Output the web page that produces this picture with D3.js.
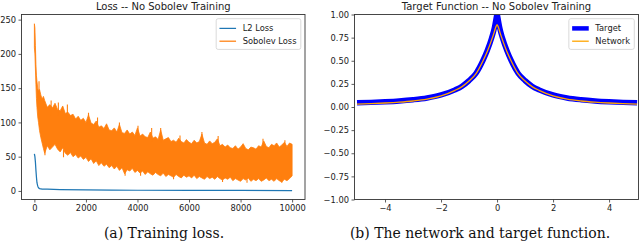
<!DOCTYPE html>
<html>
<head>
<meta charset="utf-8">
<style>
  body { margin: 0; background: #fff; }
  svg { display: block; }
  .tick text { font-family: "DejaVu Sans", sans-serif; font-size: 8.3px; fill: #222; }
  .tick line { stroke: #333; stroke-width: 0.8px; }
  .title { font-family: "DejaVu Sans", sans-serif; font-size: 10px; fill: #222; }
  .legend text { font-family: "DejaVu Sans", sans-serif; font-size: 8.3px; fill: #222; }
  .caption { font-family: "DejaVu Serif", serif; font-size: 14px; fill: #111; }
</style>
</head>
<body>
<script src="https://cdn.jsdelivr.net/npm/d3@7"></script>
<script>

// ---- loss panel data ----
const lossSteps = [0, 20, 40, 60, 80, 100, 130, 160, 200, 250, 300, 350, 400]
  .concat(d3.range(500, 10001, 100));

// upper / lower edge of the noisy Sobolev loss band
const sobolevHi = [244, 238, 212, 185, 168, 160, 150, 146, 148, 140, 134, 138, 132,
  122, 126, 121, 128, 119, 117, 124, 113, 115, 110, 112, 105, 109, 103, 106, 100,
  111, 99, 97, 102, 93, 95, 91, 98, 89, 88, 92, 86, 97, 85, 84, 89, 83, 86, 81, 92,
  80, 83, 79, 78, 86, 77, 79, 75, 89, 74, 76, 78, 72, 74, 71, 77, 72, 70, 75, 71,
  69, 74, 70, 72, 83, 70, 68, 73, 69, 71, 76, 66, 68, 64, 67, 63, 62, 66, 61, 64,
  69, 62, 60, 64, 63, 61, 66, 64, 73, 65, 63, 68, 66, 70, 64, 67, 71, 65, 70, 68];
const sobolevLo = [209, 200, 178, 155, 135, 122, 108, 100, 88, 78, 70, 62, 55,
  66, 60, 64, 68, 61, 57, 63, 55, 52, 56, 50, 53, 48, 51, 46, 49,
  43, 47, 40, 44, 37, 41, 36, 39, 34, 37, 32, 36, 30, 34, 25, 31, 29, 33, 27, 30,
  26, 29, 24, 28, 25, 23, 27, 24, 22, 26, 21, 24, 22, 20, 24, 21, 19, 23, 20, 22,
  19, 23, 18, 21, 19, 17, 21, 18, 20, 17, 21, 18, 16, 19, 17, 20, 15, 18, 16, 14,
  18, 16, 19, 14, 17, 15, 18, 14, 16, 19, 15, 17, 14, 18, 15, 13, 17, 15, 18, 22];

// narrow single-step spikes that stick out of the band: [step, tip, base]
const sobolevSpikes = [[180, 160, 135], [650, 132, 110], [930, 129, 110], [1280, 126, 105],
  [2100, 114, 95], [2450, 107, 88], [3300, 100, 80], [4020, 95, 75], [4550, 92, 72],
  [4900, 92, 70], [5650, 81, 65], [6500, 86, 66], [7130, 80, 62], [8870, 76, 58], [9720, 74, 58],
  [410, 52, 62], [1130, 49, 60], [3520, 22, 32], [4120, 22, 32], [5400, 17, 26],
  [7300, 13, 22], [8250, 12, 22], [9600, 12, 22]];

const l2Steps = [0, 20, 40, 60, 80, 100, 130, 160, 200, 300, 500, 1000, 2000, 3000, 4000, 6000, 8000, 10000];
const l2Loss  = [54, 50, 42, 30, 20, 12, 7, 4.5, 3.5, 2.8, 2.5, 2, 1.5, 1.2, 1, 0.8, 0.7, 0.6];

const lossXTicks = [0, 2000, 4000, 6000, 8000, 10000];
const lossYTicks = [0, 50, 100, 150, 200, 250];

// ---- target function panel data ----
const fnX = [-5, -4.5, -4, -3.5, -3, -2.5, -2, -1.5, -1.25, -1, -0.75, -0.5, -0.35, -0.2, -0.1, -0.05, 0,
  0.05, 0.1, 0.2, 0.35, 0.5, 0.75, 1, 1.25, 1.5, 2, 2.5, 3, 3.5, 4, 4.5, 5];
const targetY = [0.045, 0.05, 0.057, 0.066, 0.079, 0.098, 0.13, 0.185, 0.225, 0.285, 0.365, 0.505, 0.61, 0.74, 0.85, 0.93, 1.0,
  0.93, 0.85, 0.74, 0.61, 0.505, 0.365, 0.285, 0.225, 0.185, 0.13, 0.098, 0.079, 0.066, 0.057, 0.05, 0.045];
const networkY = [0.03, 0.036, 0.043, 0.052, 0.065, 0.085, 0.12, 0.18, 0.22, 0.28, 0.36, 0.50, 0.60, 0.72, 0.81, 0.86, 0.89,
  0.86, 0.81, 0.72, 0.60, 0.50, 0.36, 0.28, 0.22, 0.18, 0.12, 0.085, 0.065, 0.052, 0.043, 0.036, 0.03];

const fnXTicks = [-4, -2, 0, 2, 4];
const fnYTicks = [-1, -0.75, -0.5, -0.25, 0, 0.25, 0.5, 0.75, 1];

// ---- drawing ----
const svg = d3.select("body").append("svg").attr("width", 640).attr("height", 249);

function panel(id, box, x, y, xTicks, yTicks, xFmt, yFmt, title) {
  const g = svg.append("g");
  svg.append("clipPath").attr("id", id)
    .append("rect").attr("x", box.x0).attr("y", box.y0)
    .attr("width", box.x1 - box.x0).attr("height", box.y1 - box.y0);

  g.append("g").attr("transform", `translate(0,${box.y1})`)
    .call(d3.axisBottom(x).tickValues(xTicks).tickFormat(xFmt).tickSize(3).tickPadding(2.5))
    .call(a => a.select(".domain").remove());
  g.append("g").attr("transform", `translate(${box.x0},0)`)
    .call(d3.axisLeft(y).tickValues(yTicks).tickFormat(yFmt).tickSize(3).tickPadding(2.5))
    .call(a => a.select(".domain").remove());

  g.append("text").attr("class", "title")
    .attr("x", (box.x0 + box.x1) / 2).attr("y", 10)
    .attr("text-anchor", "middle").text(title);

  const plot = g.append("g").attr("clip-path", `url(#${id})`);
  return { g, plot };
}

function frame(g, box) {
  g.append("rect").attr("x", box.x0).attr("y", box.y0)
    .attr("width", box.x1 - box.x0).attr("height", box.y1 - box.y0)
    .attr("fill", "none").attr("stroke", "#333").attr("stroke-width", 0.9);
}

function legend(g, box, items) {
  const pad = 3.3, hl = 16.6, htp = 6.6, rowH = 12.8;
  const lg = g.append("g").attr("class", "legend");
  const bg = lg.append("rect");
  const texts = items.map((d, i) => lg.append("text")
    .attr("y", box.y0 + 4.2 + pad + rowH * i + rowH / 2).attr("dy", "0.35em").text(d.label));
  const tw = d3.max(texts, t => t.node().getComputedTextLength());
  const w = pad * 2 + hl + htp + tw + 1;
  const left = box.x1 - 4.2 - w, top = box.y0 + 4.2;
  bg.attr("x", left).attr("y", top).attr("width", w).attr("height", rowH * items.length + pad * 2 - 1.5)
    .attr("rx", 2).attr("fill", "#fff").attr("fill-opacity", 0.8)
    .attr("stroke", "#d0d0d0").attr("stroke-width", 0.8);
  items.forEach((d, i) => {
    const cy = top + pad + rowH * i + rowH / 2;
    lg.append("line").attr("x1", left + pad).attr("x2", left + pad + hl)
      .attr("y1", cy).attr("y2", cy)
      .attr("stroke", d.color).attr("stroke-width", d.width);
    texts[i].attr("x", left + pad + hl + htp);
  });
}

// left: training loss
const boxA = { x0: 21.5, x1: 305, y0: 14.5, y1: 199.5 };
const xA = d3.scaleLinear().domain([-500, 10500]).range([boxA.x0, boxA.x1]);
const yA = d3.scaleLinear().domain([-12.5, 257.5]).range([boxA.y1, boxA.y0]);
const pA = panel("clipA", boxA, xA, yA, lossXTicks, lossYTicks, d3.format("d"), d3.format("d"),
  "Loss -- No Sobolev Training");

pA.plot.append("path")
  .datum(l2Steps.map((s, i) => [s, l2Loss[i]]))
  .attr("fill", "none").attr("stroke", "#1f77b4").attr("stroke-width", 1.25)
  .attr("d", d3.line().x(d => xA(d[0])).y(d => yA(d[1])));

pA.plot.append("path")
  .datum(lossSteps.map((s, i) => [s, sobolevLo[i], sobolevHi[i]]))
  .attr("fill", "#ff7f0e").attr("stroke", "#ff7f0e").attr("stroke-width", 0.8)
  .attr("stroke-linejoin", "round")
  .attr("d", d3.area().x(d => xA(d[0])).y0(d => yA(d[1])).y1(d => yA(d[2])));

pA.plot.selectAll(".spike").data(sobolevSpikes).join("line")
  .attr("class", "spike")
  .attr("x1", d => xA(d[0])).attr("x2", d => xA(d[0]))
  .attr("y1", d => yA(d[1])).attr("y2", d => yA(d[2]))
  .attr("stroke", "#ff7f0e").attr("stroke-width", 1.1);

frame(pA.g, boxA);
legend(pA.g, boxA, [
  { label: "L2 Loss", color: "#1f77b4", width: 1.25 },
  { label: "Sobolev Loss", color: "#ff7f0e", width: 1.25 }
]);

// right: target function
const boxB = { x0: 354.5, x1: 638.5, y0: 14.5, y1: 199.5 };
const xB = d3.scaleLinear().domain([-5.09, 5.05]).range([boxB.x0, boxB.x1]);
const yB = d3.scaleLinear().domain([-1, 1]).range([boxB.y1, boxB.y0]);
const pB = panel("clipB", boxB, xB, yB, fnXTicks, fnYTicks, d3.format("d"), d3.format(".2f"),
  "Target Function -- No Sobolev Training");

const fnLine = d3.line().curve(d3.curveMonotoneX).x(d => xB(d[0])).y(d => yB(d[1]));
pB.plot.append("path")
  .datum(fnX.map((v, i) => [v, targetY[i]]))
  .attr("fill", "none").attr("stroke", "#0000ff").attr("stroke-width", 5.5)
  .attr("stroke-linejoin", "round").attr("d", fnLine);
pB.plot.append("path")
  .datum(fnX.map((v, i) => [v, networkY[i]]))
  .attr("fill", "none").attr("stroke", "#ffa500").attr("stroke-width", 1.3)
  .attr("d", fnLine);

frame(pB.g, boxB);
legend(pB.g, boxB, [
  { label: "Target", color: "#0000ff", width: 4.5 },
  { label: "Network", color: "#ffa500", width: 1.3 }
]);

// captions
svg.append("text").attr("class", "caption").attr("x", 164).attr("y", 238)
  .attr("text-anchor", "middle").text("(a) Training loss.");
svg.append("text").attr("class", "caption").attr("x", 480).attr("y", 238)
  .attr("text-anchor", "middle").text("(b) The network and target function.");

</script>
</body>
</html>
